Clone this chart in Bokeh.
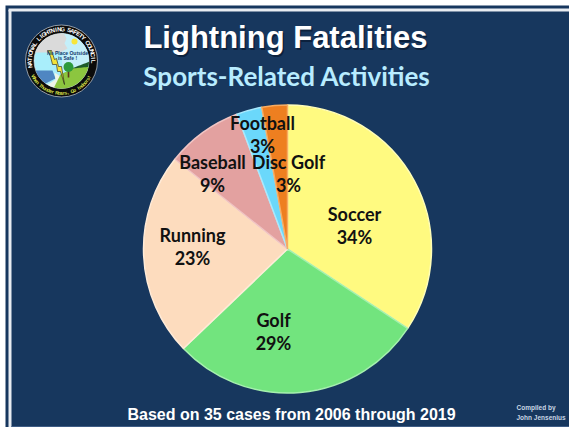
import math
import numpy as np
from bokeh.plotting import figure
from bokeh.models import Range1d
from bokeh.core.properties import value
from bokeh.embed import file_html
from bokeh.resources import INLINE

# ---- data
categories = ["Soccer", "Golf", "Running", "Baseball", "Football", "Disc Golf"]
cases = [12, 10, 8, 3, 1, 1]
percent_labels = ["34%", "29%", "23%", "9%", "3%", "3%"]
title = "Lightning Fatalities"
subtitle = "Sports-Related Activities"
footer = "Based on 35 cases from 2006 through 2019"
credit = ["Compiled by", "John Jensenius"]
ring_top = "NATIONAL LIGHTNING SAFETY COUNCIL"
ring_bottom = "When Thunder Roars, Go Indoors!"
logo_text = ["No Place Outside", "is Safe !"]

# ---- style / layout
fills = ["#FFFA80", "#72E47E", "#FDDCBE", "#E3A1A0", "#6BD8FB", "#EE7F20"]
rims = ["#FFFDB8", "#A5F0AE", "#FFEBD8", "#F0C4C3", "#A8E9FD", "#F7AC62"]
NAVY = "#17375E"
PIE_X, PIE_Y, PIE_R = 287, 248.5, 144
label_xy = [(354, 225), (273, 331), (192, 246), (212, 173), (262, 134), (288, 173)]
FONT = value("Lato")
ARIAL = value("Liberation Sans")
H = 429


def Y(v):
    return H - np.asarray(v, dtype=float)


p = figure(width=564, height=422, output_backend="svg", toolbar_location=None,
           x_range=Range1d(5, 569), y_range=Range1d(H - 427, H - 5),
           min_border=0, outline_line_color=None,
           background_fill_color=NAVY, border_fill_color=NAVY,
           margin=(5, 0, 0, 5))
p.axis.visible = False
p.grid.visible = False

# frame
p.line([9.5, 9.5], [Y(427), Y(9.5)], line_color="#E8ECF1", line_width=3)
p.line([8, 569], [Y(9.5), Y(9.5)], line_color="#E8ECF1", line_width=3)
p.line([11, 569], [Y(426), Y(426)], line_color="#3E5C85", line_width=1)

# ---- pie, from the values
shares = np.array(cases, dtype=float) / sum(cases)
edges = np.concatenate([[0], np.cumsum(shares)]) * 2 * math.pi
starts = math.pi / 2 - edges[1:]
ends = math.pi / 2 - edges[:-1]
p.wedge(x=PIE_X, y=float(Y(PIE_Y)), radius=PIE_R, start_angle=starts, end_angle=ends,
        fill_color=fills, line_color=rims, line_width=1.5)

for (lx, ly), cat, pct in zip(label_xy, categories, percent_labels):
    p.text([lx], Y([ly - 11.5]), text=[cat], text_font=FONT, text_font_style="bold",
           text_font_size="18px", text_color="#111111", text_align="center",
           text_baseline="middle")
    p.text([lx], Y([ly + 11.5]), text=[pct], text_font=FONT, text_font_style="bold",
           text_font_size="18px", text_color="#111111", text_align="center",
           text_baseline="middle")

# ---- titles
p.text([286.5], Y([38.5]), text=[title], text_font=ARIAL, text_font_style="bold",
       text_font_size="31px", text_color="#08182E", text_alpha=0.7,
       text_align="center", text_baseline="middle")
p.text([285], Y([37]), text=[title], text_font=ARIAL, text_font_style="bold",
       text_font_size="31px", text_color="#FFFFFF", text_align="center", text_baseline="middle")
p.text([286.5], Y([75]), text=[subtitle], text_font=FONT, text_font_style="bold",
       text_font_size="26px", text_color="#B8ECFF", text_align="center", text_baseline="middle")
p.text([291], Y([413.5]), text=[footer], text_font=ARIAL, text_font_style="bold",
       text_font_size="16px", text_color="#FFFFFF", text_align="center", text_baseline="middle")
p.text([516, 516], Y([407, 417]), text=credit, text_font=ARIAL, text_font_style="bold",
       text_font_size="6.5px", text_color="#C9D6E4", text_align="left", text_baseline="middle")

# ---- logo
LX, LY, LR, LI = 61, 60.5, 36, 27.5


def clipped(points):
    """Densify a page-pixel polygon and pull it inside the logo's inner disc."""
    xs, ys = [], []
    pts = list(points) + [points[0]]
    for (x0, y0), (x1, y1) in zip(pts[:-1], pts[1:]):
        for t in np.linspace(0, 1, 12, endpoint=False):
            x, y = x0 + (x1 - x0) * t, y0 + (y1 - y0) * t
            dx, dy = x - LX, y - LY
            d = math.hypot(dx, dy)
            if d > LI:
                x, y = LX + dx * LI / d, LY + dy * LI / d
            xs.append(x)
            ys.append(y)
    return xs, Y(ys)


def scene(points, color):
    xs, ys = clipped(points)
    p.patch(xs, ys, fill_color=color, line_color=None)


p.circle([LX], Y([LY]), radius=LR, fill_color="#0B0B0B", line_color="#C9CED4", line_width=0.7)
p.circle([LX], Y([LY]), radius=LI, fill_color="#A9EEFB", line_color="#E9E9E9", line_width=0.6)
scene([(60, 30), (92, 30), (92, 70), (62, 70)], "#C4EFFA")
scene([(30, 30), (62, 30), (66, 38), (64, 43), (67, 48), (60, 52), (30, 52)], "#DADADA")
scene([(30, 70), (52, 70), (55, 78), (45, 83), (30, 90)], "#4F86C2")
scene([(54, 72), (60, 76), (56, 90), (40, 90), (46, 85), (55, 79)], "#EFF5E8")
scene([(71, 68), (92, 60), (92, 68), (75, 71)], "#1E5A2A")
scene([(52, 90), (60, 74), (72, 68), (92, 66), (92, 92)], "#8CC63F")
p.circle([74], Y([41]), radius=3, fill_color="#F7E53B", line_color=None)
p.quad(left=[67.2], right=[68.8], top=Y([68]), bottom=Y([77]), fill_color="#5B3B1E", line_color=None)
p.circle([68], Y([66.5]), radius=5, fill_color="#2C9A3B", line_color=None)
bolt_x = [47, 51, 54, 56, 58, 61, 64, 60, 57, 56, 52, 50]
bolt_y = [50, 50, 59, 58, 66, 66, 84, 71, 71, 64, 64, 56]
p.patch(bolt_x, Y(bolt_y), fill_color="#F3E23A", line_color="#1A1A1A", line_width=0.6)
p.text([67, 67], Y([52, 57.5]), text=logo_text, text_font=ARIAL, text_font_style="bold",
       text_font_size="5px", text_color="#123A6E", text_align="center", text_baseline="middle")


def ring(text, a0, a1, radius, color, flip, size):
    n = len(text)
    for i, ch in enumerate(text):
        a = a0 + (a1 - a0) * (i + 0.5) / n
        rad = math.radians(a)
        tx = LX + radius * math.cos(rad)
        ty = LY - radius * math.sin(rad)
        rot = rad - math.pi / 2 if not flip else rad + math.pi / 2
        p.text([tx], Y([ty]), text=[ch], angle=rot, text_font=ARIAL, text_font_style="bold",
               text_font_size=size, text_color=color, text_align="center", text_baseline="middle")


ring(ring_top, 192, -4, 31.8, "#FFFFFF", False, "6px")
ring(ring_bottom, 208, 332, 31.8, "#D9E04A", True, "5px")

open("out.html", "w").write(file_html(p, INLINE))
